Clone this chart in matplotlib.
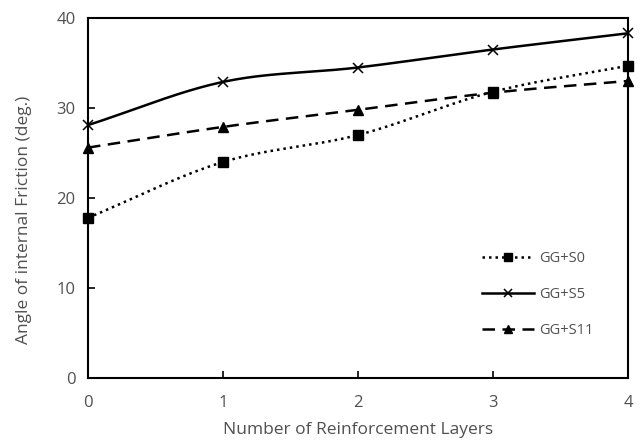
import numpy as np
import matplotlib
matplotlib.use("Agg")
import matplotlib.pyplot as plt

plt.rcParams['font.family'] = ['Open Sans', 'DejaVu Sans']

layers = [0, 1, 2, 3, 4]
gg_s0 = [17.8, 24.0, 27.0, 31.8, 34.7]
gg_s5 = [28.1, 32.9, 34.5, 36.5, 38.3]
gg_s11 = [25.6, 27.9, 29.8, 31.7, 33.0]
series_names = ["GG+S0", "GG+S5", "GG+S11"]
y_ticks = [0, 10, 20, 30, 40]


def smooth(x, y, n=40, tension=0.5):
    """Cardinal-spline curve through the points (spreadsheet-style smoothed line)."""
    x = np.asarray(x, float)
    y = np.asarray(y, float)
    px = np.concatenate([[2 * x[0] - x[1]], x, [2 * x[-1] - x[-2]]])
    py = np.concatenate([[2 * y[0] - y[1]], y, [2 * y[-1] - y[-2]]])
    xs, ys = [], []
    t = np.linspace(0, 1, n)
    for i in range(1, len(px) - 2):
        m0x = tension * (px[i + 1] - px[i - 1])
        m0y = tension * (py[i + 1] - py[i - 1])
        m1x = tension * (px[i + 2] - px[i])
        m1y = tension * (py[i + 2] - py[i])
        h00 = 2 * t**3 - 3 * t**2 + 1
        h10 = t**3 - 2 * t**2 + t
        h01 = -2 * t**3 + 3 * t**2
        h11 = t**3 - t**2
        xs.append(h00 * px[i] + h10 * m0x + h01 * px[i + 1] + h11 * m1x)
        ys.append(h00 * py[i] + h10 * m0y + h01 * py[i + 1] + h11 * m1y)
    return np.concatenate(xs), np.concatenate(ys)


fig = plt.figure(figsize=(6.4, 4.46), dpi=100)
ax = fig.add_axes([88 / 640, 1 - 378 / 446, 540 / 640, 360 / 446])

styles = [
    dict(ls=(0, (1, 1.6)), marker='s', ms=7, mew=1),
    dict(ls='-', marker='x', ms=7, mew=1.1),
    dict(ls=(0, (5, 3)), marker='^', ms=7, mew=1),
]
for vals, name, st in zip([gg_s0, gg_s5, gg_s11], series_names, styles):
    sx, sy = smooth(layers, vals)
    ax.plot(sx, sy, color='black', lw=1.8, ls=st['ls'], zorder=2)
    ax.plot(layers, vals, ls='none', marker=st['marker'], ms=st['ms'],
            mew=st['mew'], color='black', clip_on=False, zorder=3)

handles = [
    plt.Line2D([], [], color='black', lw=1.8, ls=st['ls'], marker=st['marker'],
               ms=6, mew=st['mew'])
    for st in styles
]
ax.legend(handles, series_names, loc='upper left', bbox_to_anchor=(0.705, 0.39),
          frameon=False, fontsize=10.5, handlelength=3.6, labelspacing=1.45,
          handletextpad=0.35, labelcolor='#505050')

ax.set_xlim(0, 4)
ax.set_ylim(0, 40)
ax.set_xticks(layers)
ax.set_yticks(y_ticks)
ax.tick_params(direction='in', length=5, width=1.2, labelsize=12,
               colors='black', labelcolor='#505050', pad=9)
ax.tick_params(axis='x', pad=12)
for sp in ax.spines.values():
    sp.set_linewidth(1.5)

ax.set_xlabel("Number of Reinforcement Layers", fontsize=12.5, color='#505050',
              labelpad=8)
ax.set_ylabel("Angle of internal Friction (deg.)", fontsize=12.5, color='#505050')
ax.yaxis.set_label_coords(-0.103, 0.44)

fig.savefig("out.png", dpi=100)
